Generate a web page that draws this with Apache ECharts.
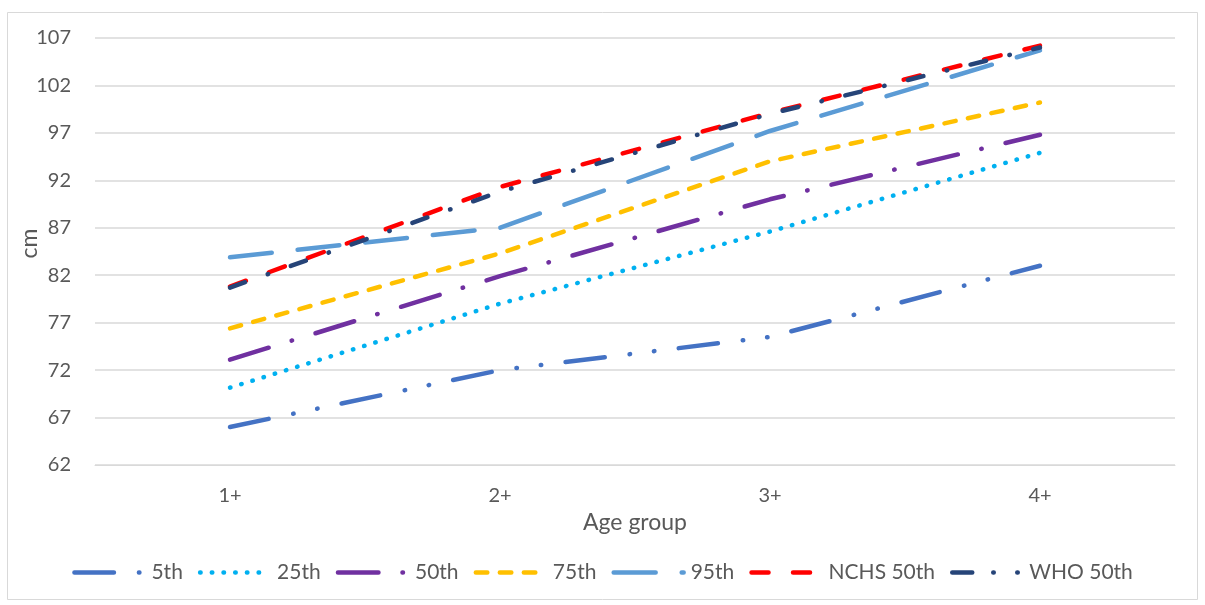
<!DOCTYPE html>
<html>
<head>
<meta charset="utf-8">
<title>Height by age group</title>
<script src="https://cdn.jsdelivr.net/npm/echarts@6/dist/echarts.min.js"></script>
<style>
  html, body { margin: 0; padding: 0; background: #fff; }
  #chart { width: 1205px; height: 605px; }
</style>
</head>
<body>
<div id="chart"></div>
<script>
// Age groups on the x axis
const ageGroups = ['1+', '2+', '3+', '4+'];

// Height (cm) per percentile and reference medians
const p5th = [66.0, 72.0, 75.5, 83.0];
const p25th = [70.15, 79.0, 86.6, 94.9];
const p50th = [73.1, 81.9, 90.0, 96.8];
const p75th = [76.4, 84.3, 94.0, 100.2];
const p95th = [83.9, 87.0, 97.2, 105.7];
const nchs50th = [80.8, 91.3, 99.1, 106.2];
const who50th = [80.7, 90.8, 99.0, 106.0];

// Y axis range
const yMin = 62;
const yMax = 107;
const yStep = 5;

const font = 'Lato, "Liberation Sans", sans-serif';
const textColor = '#595959';
const gridColor = '#D9D9D9';
const lineWidth = 4.5;

function lineSeries(name, data, color, dash) {
  return {
    name: name,
    type: 'line',
    data: data,
    symbol: 'none',
    smooth: false,
    lineStyle: { color: color, width: lineWidth, type: dash, cap: 'round', join: 'round' },
    itemStyle: { color: color },
    emphasis: { disabled: true },
    z: 2
  };
}

const chart = echarts.init(document.getElementById('chart'), null, { renderer: 'canvas' });

chart.setOption({
  animation: false,
  backgroundColor: '#ffffff',
  graphic: [{
    type: 'rect',
    shape: { x: 7.5, y: 12.5, width: 1190, height: 587 },
    style: { fill: 'none', stroke: gridColor, lineWidth: 1 },
    silent: true,
    z: -10
  }],
  grid: { left: 95, right: 30, top: 38, bottom: 140 },
  legend: {
    bottom: 17,
    left: 'center',
    itemWidth: 70,
    itemHeight: 14,
    itemGap: 15,
    itemStyle: { opacity: 0 },
    lineStyle: { width: lineWidth, cap: 'round', join: 'round' },
    textStyle: { fontFamily: font, fontSize: 21, color: textColor, padding: [0, 0, 0, 2] },
    data: [
      '5th', '25th', '50th', '75th', '95th', 'NCHS 50th',
      { name: 'WHO 50th', lineStyle: { type: [20, 21, 0.5, 23.5, 0.5, 40] } }
    ]
  },
  xAxis: {
    type: 'category',
    data: ageGroups,
    boundaryGap: true,
    name: 'Age group',
    nameLocation: 'middle',
    nameGap: 44,
    nameTextStyle: { fontFamily: font, fontSize: 23, color: textColor },
    axisLine: { show: true, lineStyle: { color: gridColor, width: 1 } },
    axisTick: { show: false },
    axisLabel: { fontFamily: font, fontSize: 20, color: textColor, margin: 21 }
  },
  yAxis: {
    type: 'value',
    min: yMin,
    max: yMax,
    interval: yStep,
    name: 'cm',
    nameLocation: 'middle',
    nameGap: 54,
    nameMoveOverlap: false,
    nameTextStyle: { fontFamily: font, fontSize: 23, color: textColor, padding: [0, 0, 0, 16] },
    axisLine: { show: false },
    axisTick: { show: false },
    axisLabel: { fontFamily: font, fontSize: 20, color: textColor, margin: 24 },
    splitLine: { show: true, lineStyle: { color: gridColor, width: 1.5 } }
  },
  series: [
    lineSeries('5th', p5th, '#4472C4', [39.5, 25, 0.5, 24, 0.5, 24.5]),
    lineSeries('25th', p25th, '#00B0F0', [0.5, 11.2]),
    lineSeries('50th', p50th, '#7030A0', [40.5, 24, 0.5, 24.5]),
    lineSeries('75th', p75th, '#FFC000', [11.5, 12.5]),
    lineSeries('95th', p95th, '#5B9BD5', [42, 26]),
    lineSeries('NCHS 50th', nchs50th, '#FF0000', [17, 24.5]),
    lineSeries('WHO 50th', who50th, '#264478', [16, 24, 0.5, 24])
  ]
});
</script>
</body>
</html>
